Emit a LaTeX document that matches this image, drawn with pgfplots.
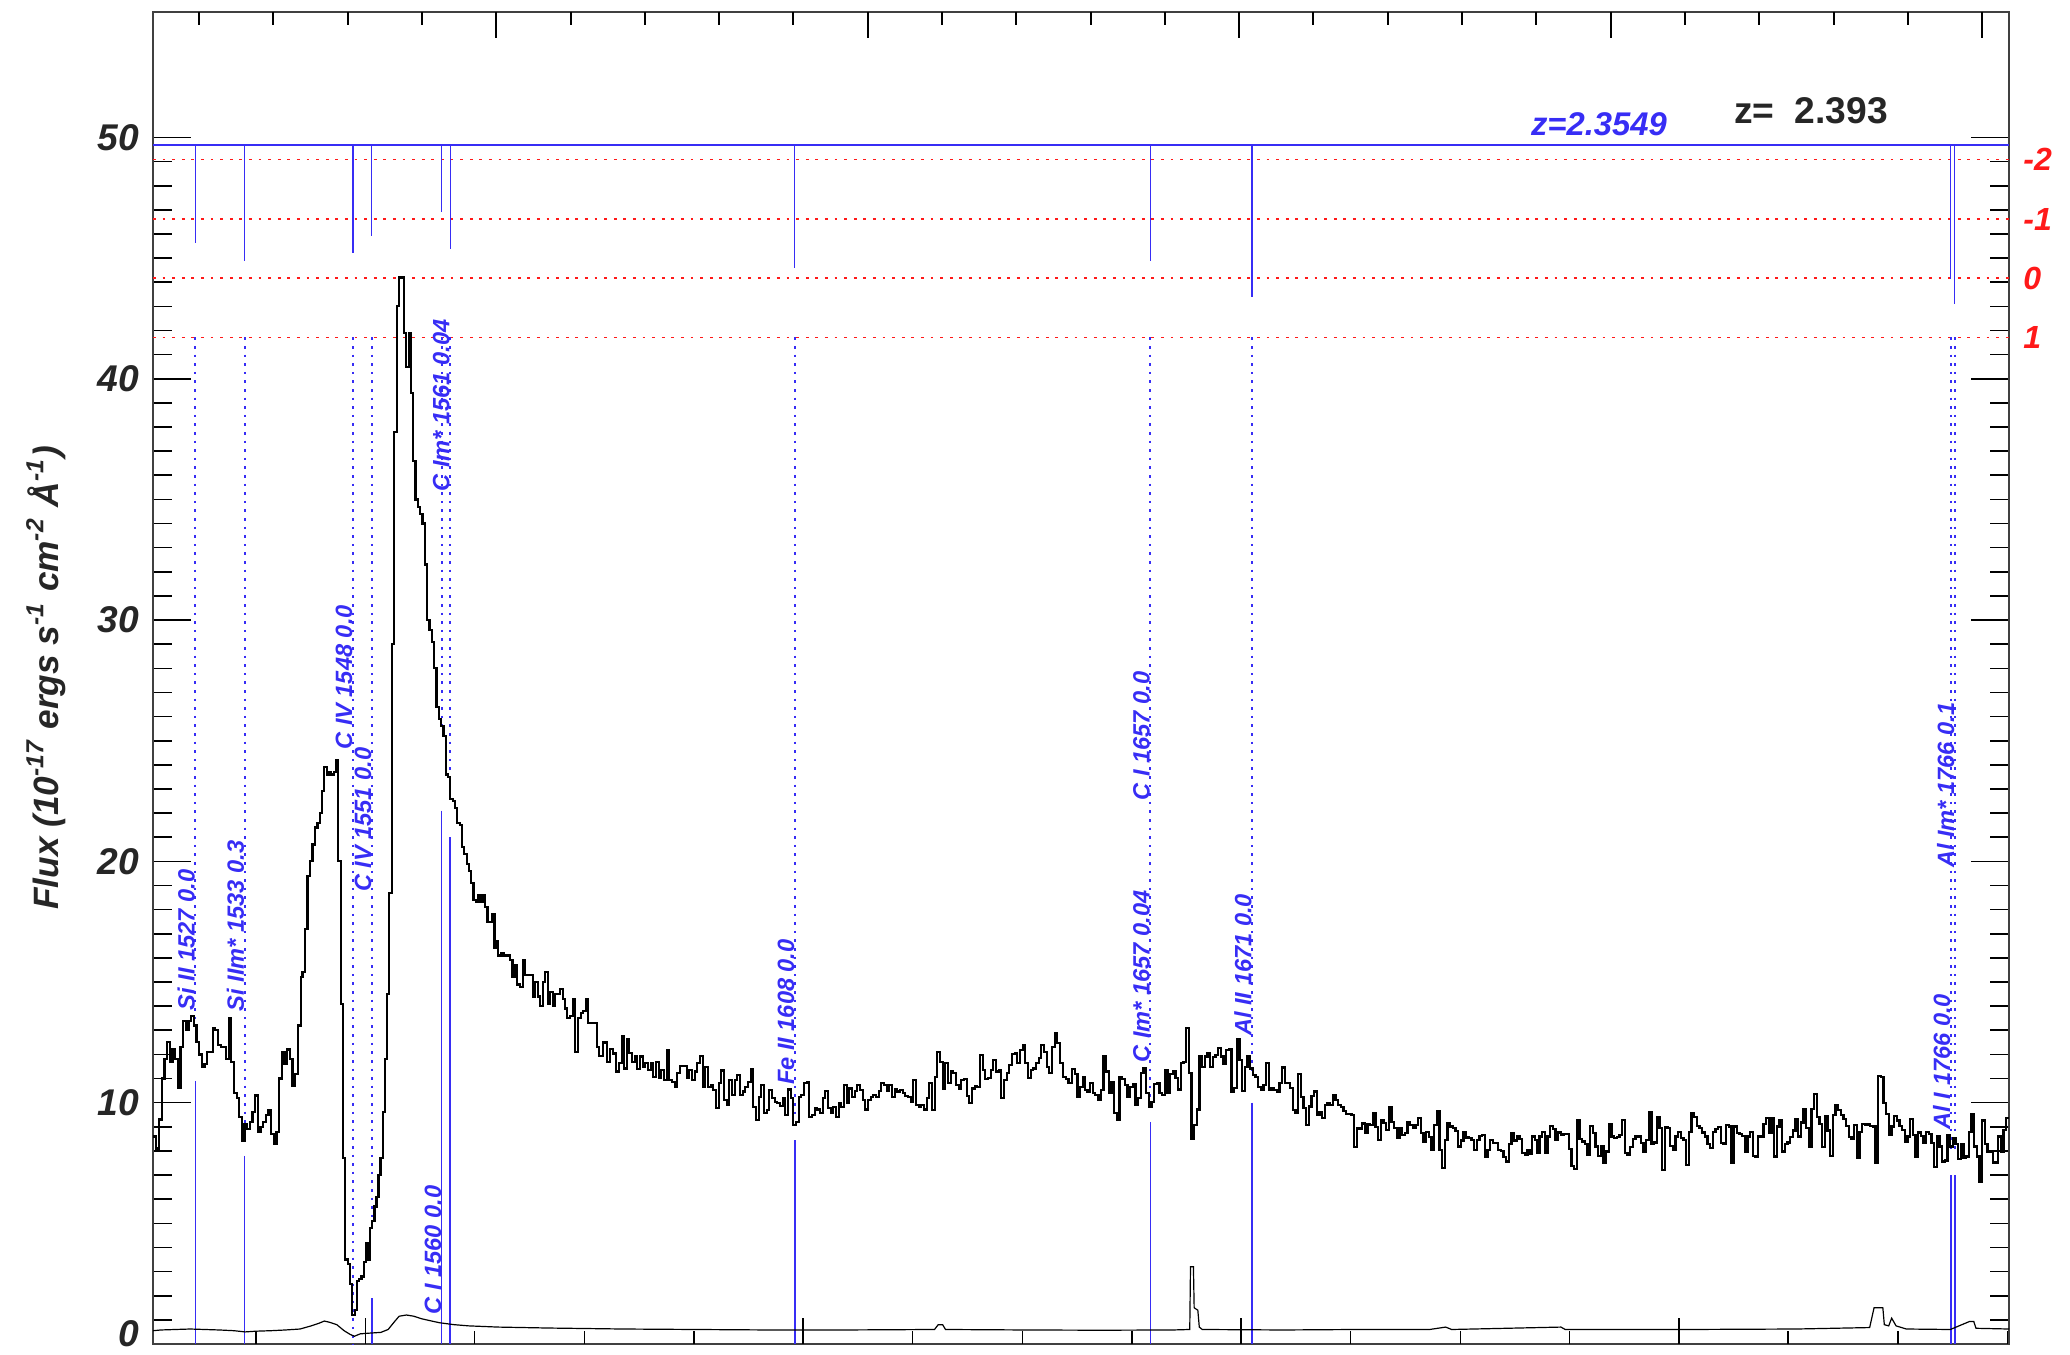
\documentclass[border=0pt]{standalone}
\usepackage{pgfplots}
\pgfplotsset{compat=1.18}
\usepackage{fontspec}
\setmainfont{Liberation Sans}
\definecolor{mblue}{RGB}{55,45,245}
\definecolor{mred}{RGB}{255,25,25}
\newcommand{\lbl}{\fontsize{5.9}{6}\selectfont\bfseries\itshape}
\newcommand{\tkf}{\fontsize{9.3}{10}\selectfont\bfseries\itshape}
\begin{document}
\begin{tikzpicture}
\useasboundingbox (-38.25pt,-2.75pt) rectangle (479.25pt,336pt);
\begin{axis}[
  at={(0,0)}, anchor=south west, scale only axis,
  width=464pt, height=333pt,
  xmin=1520.94, xmax=1774.0, ymin=0, ymax=55.2,
  clip=false,
  xtick=\empty,
  ytick={0,10,20,30,40,50},
  yticklabels={\raisebox{5.4pt}{0},10,20,30,40,50},
  minor y tick num=9,
  ytick pos=both, yticklabel pos=left,
  major tick length=9.4pt, minor tick length=4.7pt,
  tick style={black, line width=0.4pt},
  axis line style={black!75, line width=0.45pt},
  /pgf/number format/assume math mode=true,
  yticklabel style={font=\tkf, text=black!85},
  unbounded coords=jump,
]
% red dotted reference lines
\addplot[mred, line width=0.4pt, dash pattern=on 0.7pt off 1.7pt] coordinates {(1520.94,49.08)(1774.0,49.08)};
\addplot[mred, line width=0.4pt, dash pattern=on 0.7pt off 1.7pt] coordinates {(1520.94,46.62)(1774.0,46.62)};
\addplot[mred, line width=0.4pt, dash pattern=on 0.7pt off 1.7pt] coordinates {(1520.94,44.17)(1774.0,44.17)};
\addplot[mred, line width=0.4pt, dash pattern=on 0.7pt off 1.7pt] coordinates {(1520.94,41.71)(1774.0,41.71)};
% blue system line (z=2.3549)
\addplot[mblue, line width=0.35pt] coordinates {(1520.94,49.68)(1774.0,49.68)};
\addplot[mblue, line width=0.3pt] coordinates {
(1526.71,49.68)(1526.71,45.61)(1526.71,nan)
(1533.43,49.68)(1533.43,44.87)(1533.43,nan)
(1548.20,49.68)(1548.20,45.2)(1548.20,nan)
(1550.78,49.68)(1550.78,45.9)(1550.78,nan)
(1560.31,49.68)(1560.31,46.9)(1560.31,nan)
(1561.45,49.68)(1561.45,45.36)(1561.45,nan)
(1608.45,49.68)(1608.45,44.6)(1608.45,nan)
(1656.93,49.68)(1656.93,44.9)(1656.93,nan)
(1670.79,49.68)(1670.79,43.4)(1670.79,nan)
(1766.07,49.68)(1766.07,44.15)(1766.07,nan)
(1766.62,49.68)(1766.62,43.08)};
% dotted blue line markers
\addplot[mblue, line width=0.5pt, dash pattern=on 0.65pt off 1.5pt] coordinates {
(1526.71,41.71)(1526.71,13.3)(1526.71,nan)
(1533.43,41.71)(1533.43,9.1)(1533.43,nan)
(1548.20,41.71)(1548.20,0)(1548.20,nan)
(1550.78,41.71)(1550.78,5.1)(1550.78,nan)
(1560.31,41.71)(1560.31,25.6)(1560.31,nan)
(1561.45,41.71)(1561.45,23.5)(1561.45,nan)
(1608.45,41.71)(1608.45,9.5)(1608.45,nan)
(1656.93,41.71)(1656.93,10.2)(1656.93,nan)
(1670.79,41.71)(1670.79,11.2)(1670.79,nan)
(1766.07,41.71)(1766.07,8.0)(1766.07,nan)
(1766.62,41.71)(1766.62,8.0)};
% solid blue markers at the bottom
\addplot[mblue, line width=0.35pt] coordinates {
(1526.71,10.9)(1526.71,0)(1526.71,nan)
(1533.43,7.8)(1533.43,0)(1533.43,nan)
(1550.78,1.9)(1550.78,0)(1550.78,nan)
(1560.31,22.1)(1560.31,0)(1560.31,nan)
(1561.45,21.0)(1561.45,0)(1561.45,nan)
(1608.45,8.45)(1608.45,0)(1608.45,nan)
(1656.93,9.2)(1656.93,0)(1656.93,nan)
(1670.79,10.0)(1670.79,0)(1670.79,nan)
(1766.07,7.0)(1766.07,0)(1766.07,nan)
(1766.62,7.0)(1766.62,0)};
% error spectrum
\addplot[black, line width=0.3pt] coordinates {
(1520.97,0.55)(1522,0.58)(1524,0.6)(1526,0.62)(1528,0.6)(1530,0.58)(1532,0.55)(1533.5,0.5)(1535,0.53)(1537,0.55)(1539,0.58)(1541,0.62)(1542.5,0.75)(1543.5,0.85)(1544.3,0.95)(1545,0.9)(1546,0.8)(1547,0.55)(1547.8,0.4)(1548.4,0.32)(1549.2,0.42)(1550.5,0.45)(1552,0.48)(1553,0.6)(1553.8,0.9)(1554.5,1.15)(1555.5,1.2)(1556.5,1.15)(1557.5,1.05)(1558.5,0.98)(1560,0.88)(1562,0.8)(1564,0.75)(1568,0.7)(1575,0.66)(1585,0.62)(1595,0.6)(1605,0.58)(1615,0.58)(1627.5,0.6)(1628.0,0.8)(1628.6,0.8)(1629,0.6)(1640,0.58)(1650,0.57)(1660,0.58)(1662.3,0.6)(1662.4,3.2)(1662.8,3.2)(1662.9,1.5)(1663.4,1.4)(1663.6,0.7)(1664,0.6)(1675,0.58)(1685,0.6)(1695,0.6)(1697.2,0.7)(1698,0.6)(1712.9,0.7)(1713.5,0.6)(1730,0.6)(1745,0.62)(1750,0.65)(1755,0.68)(1755.6,1.5)(1756.8,1.5)(1757.0,0.8)(1757.6,0.75)(1758.0,1.07)(1758.6,0.75)(1760,0.62)(1766,0.6)(1768.6,0.93)(1769.2,0.93)(1769.5,0.65)(1774,0.62)};
% flux spectrum
\addplot[const plot, black, line width=0.55pt] coordinates {
(1520.97,8.6)(1521.34,8.1)(1521.79,9.3)(1522.16,11.0)(1522.52,11.8)(1522.88,12.5)(1523.25,11.7)(1523.61,12.2)(1523.97,11.8)(1524.34,10.6)(1524.70,12.3)(1525.07,13.4)(1525.43,13.0)(1525.79,13.4)(1526.16,13.6)(1526.52,13.2)(1526.88,12.5)(1527.25,12.0)(1527.61,11.5)(1527.97,11.6)(1528.34,12.1)(1528.70,12.1)(1529.07,13.1)(1529.43,13.0)(1529.79,12.4)(1530.16,12.3)(1530.52,12.3)(1530.88,11.8)(1531.25,13.5)(1531.61,11.7)(1531.97,10.4)(1532.34,10.2)(1532.70,9.4)(1533.07,8.4)(1533.43,9.1)(1533.79,8.9)(1534.16,9.2)(1534.52,9.6)(1534.88,10.3)(1535.25,8.8)(1535.61,9.0)(1535.97,9.2)(1536.34,9.5)(1536.70,9.7)(1537.07,8.7)(1537.43,8.3)(1537.79,8.8)(1538.16,11.0)(1538.52,12.1)(1538.88,11.6)(1539.25,12.2)(1539.61,11.8)(1539.97,10.7)(1540.34,11.2)(1540.70,13.2)(1541.07,15.2)
(1541.33,15.4)(1541.65,17.2)(1542.01,19.4)(1542.33,20.0)(1542.69,20.7)(1543.05,21.4)(1543.36,21.6)(1543.68,22.0)(1544.00,22.9)(1544.27,23.9)(1544.63,23.6)(1544.99,23.7)(1545.26,23.6)(1545.62,23.7)(1545.94,24.2)(1546.21,20.0)(1546.53,14.1)(1546.84,7.7)(1547.16,3.5)(1547.48,3.3)(1547.79,2.5)(1548.11,1.2)(1548.43,1.4)(1548.74,2.6)(1549.06,2.7)(1549.38,2.8)(1549.69,3.4)(1550.01,4.2)(1550.28,3.5)(1550.55,4.8)(1550.82,5.1)(1551.14,5.7)(1551.41,6.1)(1551.68,7.0)(1551.95,7.7)(1552.27,9.6)(1552.58,11.8)(1552.85,14.5)(1553.17,18.7)(1553.53,29.0)(1553.85,37.8)(1554.17,43.0)(1554.53,44.2)(1555.16,41.9)(1555.48,40.5)(1555.80,41.9)(1556.11,39.4)(1556.43,36.6)(1556.74,35.0)(1557.06,34.7)(1557.37,34.4)(1557.69,34.0)(1558.01,32.3)(1558.32,30.0)(1558.64,29.6)(1558.96,29.1)(1559.27,28.0)(1559.59,26.4)(1559.90,25.9)(1560.22,25.6)(1560.54,25.2)(1560.85,23.6)(1561.17,23.5)(1561.49,22.6)(1561.80,22.5)(1562.12,22.2)(1562.44,21.6)(1562.75,21.5)(1563.07,20.6)(1563.38,20.3)(1563.70,19.9)(1564.02,19.6)(1564.33,19.1)(1564.65,18.4)(1564.97,18.3)(1565.28,18.6)(1565.60,18.3)(1565.91,18.6)(1566.23,18.1)(1566.55,17.5)(1566.86,17.5)(1567.18,17.8)(1567.50,16.4)(1567.81,16.7)
(1568.02,16.1)(1568.47,16.2)(1568.79,16.1)(1569.25,16.1)(1569.61,15.9)(1569.97,15.2)(1570.29,15.7)(1570.61,14.9)(1570.97,14.8)(1571.34,15.9)(1571.66,15.3)(1572.02,15.3)(1572.70,14.4)(1573.02,15.0)(1573.38,14.4)(1573.70,14.0)(1574.07,15.0)(1574.39,15.4)(1574.75,14.1)(1575.07,14.6)(1575.43,14.0)(1575.75,14.5)(1576.07,14.5)(1576.43,14.7)(1576.79,14.3)(1577.11,13.9)(1577.43,13.5)(1577.79,13.6)(1578.16,14.3)(1578.52,12.1)(1578.88,13.5)(1579.25,13.7)(1579.61,13.8)(1579.97,14.3)(1580.29,13.3)(1580.66,13.3)(1581.43,12.3)
(1581.79,11.93)(1582.25,12.53)(1582.57,12.49)(1582.88,11.70)(1583.25,12.21)(1583.61,12.04)(1584.07,11.29)(1584.52,11.63)(1584.84,12.76)(1585.20,11.42)(1585.52,12.62)(1585.88,12.07)(1586.25,11.70)(1586.61,11.91)(1586.97,11.38)(1587.34,11.91)(1587.70,11.49)(1588.07,11.63)(1588.43,11.35)(1588.79,11.66)(1589.16,11.08)(1589.52,11.70)(1589.88,11.01)(1590.25,11.35)(1590.61,10.94)(1590.97,12.18)(1591.34,10.94)(1591.70,10.87)(1592.07,10.66)(1592.43,11.22)(1592.79,11.52)(1593.70,11.01)(1594.07,11.35)(1594.43,10.94)(1594.79,11.29)(1595.16,11.63)(1595.52,11.93)(1595.88,10.66)(1596.25,11.49)(1596.61,10.64)(1596.97,10.73)(1597.34,10.53)(1597.70,9.77)(1598.07,10.80)(1598.43,11.33)(1598.79,10.11)(1599.16,9.90)(1599.52,10.94)(1599.88,10.32)(1600.25,10.94)(1600.61,11.15)(1600.97,10.32)(1601.34,10.46)(1601.70,10.66)(1602.07,10.87)(1602.43,11.38)(1602.79,9.83)(1603.16,9.28)(1603.52,10.25)(1603.88,10.73)(1604.25,9.56)(1604.61,9.70)(1604.97,10.53)(1605.34,10.18)(1605.70,10.04)(1606.07,9.97)(1606.43,9.86)(1606.79,10.18)(1607.16,9.49)(1607.52,10.55)(1607.88,10.18)(1608.25,9.07)(1608.61,9.21)(1608.97,10.25)(1609.34,10.32)(1609.70,10.80)(1610.07,10.87)(1610.43,9.42)(1610.79,9.49)(1611.16,9.77)(1611.52,9.72)(1611.88,9.56)(1612.25,10.18)(1612.61,10.50)(1612.97,9.77)(1613.34,9.56)(1613.70,9.83)(1614.07,9.42)(1614.43,9.97)(1614.79,9.83)(1615.16,10.73)(1615.52,9.97)(1615.88,10.59)(1616.25,10.25)(1616.61,10.50)(1616.97,10.73)(1617.34,10.53)(1617.70,10.11)(1618.07,9.72)(1618.43,10.11)(1618.79,10.25)(1619.16,10.32)(1619.52,10.25)(1619.88,10.50)(1620.25,10.80)(1620.61,10.73)(1620.97,10.50)(1621.34,10.73)(1621.70,10.22)(1622.07,10.55)(1622.43,10.46)(1622.79,10.53)(1623.16,10.39)(1623.52,10.28)(1623.88,10.22)(1624.25,10.04)(1624.61,10.94)(1624.97,9.90)(1625.34,9.81)(1625.70,9.90)(1626.07,9.72)(1626.43,10.18)(1626.79,10.80)(1627.16,9.70)(1627.52,11.08)(1627.88,12.11)(1628.25,11.70)(1628.61,10.59)(1628.97,11.63)(1629.34,10.80)(1629.70,11.29)(1630.07,11.22)(1630.43,10.73)(1630.79,10.59)(1631.16,10.94)(1631.52,10.97)(1631.88,10.28)(1632.25,9.97)(1632.61,10.59)(1632.97,10.69)(1633.34,10.66)(1633.70,11.98)(1634.07,11.35)(1634.43,10.97)(1634.79,11.01)(1635.16,11.35)(1635.52,11.77)(1635.88,11.29)(1636.25,11.35)(1636.61,10.18)(1636.97,10.94)(1637.34,11.24)(1637.70,11.56)(1638.07,12.02)(1638.43,12.04)(1638.79,11.63)(1639.16,12.18)(1639.52,12.39)(1639.88,11.63)(1640.25,11.01)(1640.61,11.35)(1640.97,11.42)(1641.34,11.63)(1641.70,11.84)(1642.07,12.39)(1642.43,12.11)(1642.79,11.49)(1643.16,11.22)(1643.52,12.32)(1643.88,12.87)(1644.25,12.46)
(1644.62,11.63)(1645.07,11.08)(1645.44,10.97)(1645.76,10.80)(1646.21,11.38)(1646.67,11.19)(1646.98,10.25)(1647.35,10.66)(1647.71,11.08)(1648.03,10.53)(1648.35,10.46)(1648.71,10.80)(1649.07,10.39)(1649.39,10.32)(1649.85,10.11)(1650.17,10.53)(1650.53,11.93)(1650.89,11.29)(1651.26,10.42)(1651.62,10.87)(1651.98,9.56)(1652.35,9.28)(1652.71,11.08)(1653.07,10.97)(1653.44,10.73)(1653.80,10.25)(1654.17,10.66)(1654.53,10.77)(1654.89,9.90)(1655.26,10.18)(1655.62,11.22)(1655.98,11.42)(1656.35,10.39)(1656.71,9.84)(1657.07,10.04)(1657.44,10.77)(1657.80,10.80)(1658.17,10.39)(1658.53,10.32)(1658.89,11.35)(1659.26,10.39)(1659.62,11.19)(1659.98,11.29)(1660.35,11.01)(1660.71,10.55)(1661.07,11.66)(1661.44,11.70)(1661.80,13.08)(1662.17,11.22)(1662.53,8.48)(1662.89,9.08)(1663.26,9.72)(1663.62,11.93)(1663.98,11.49)(1664.35,11.91)(1664.71,12.07)(1665.07,11.49)(1665.44,11.88)(1665.80,11.98)(1666.17,12.25)(1666.53,11.91)(1666.89,11.60)(1667.26,12.18)(1667.62,12.21)(1667.98,10.46)(1668.35,10.60)(1668.71,12.62)(1669.07,11.77)(1669.44,10.50)(1669.80,11.49)(1670.17,11.91)(1670.53,11.42)(1670.89,11.15)(1671.26,11.05)(1671.62,10.66)(1671.98,10.55)(1672.35,10.73)(1672.71,11.63)(1673.07,10.55)(1673.44,10.60)(1673.80,10.53)(1674.17,10.46)(1674.53,10.83)(1674.89,11.46)(1675.26,10.80)(1675.62,10.80)(1675.98,10.60)(1676.35,9.70)(1676.71,9.59)(1677.07,11.19)(1677.44,10.25)(1677.80,9.77)(1678.17,9.08)(1678.53,9.84)(1678.89,10.28)(1679.26,10.46)(1679.62,9.49)(1679.98,9.63)(1680.35,9.35)(1680.71,9.90)(1681.07,9.97)(1681.44,9.90)(1681.80,10.32)(1682.17,10.11)(1682.53,9.90)(1682.89,9.81)(1683.26,9.67)(1683.62,9.53)(1683.98,9.53)(1684.35,9.49)(1684.71,8.15)(1685.07,8.94)(1685.44,8.90)(1685.80,9.14)(1686.17,8.73)(1686.53,9.12)(1686.89,9.08)(1687.26,9.56)(1687.62,8.98)(1687.98,8.45)(1688.35,9.28)(1688.71,9.17)(1689.07,8.87)(1689.44,9.81)(1689.80,9.21)(1690.17,8.94)(1690.53,8.52)(1690.89,8.94)(1691.26,8.66)(1691.62,8.73)(1691.98,9.21)(1692.35,9.08)(1692.71,8.94)(1693.07,9.08)(1693.44,9.35)(1693.80,8.73)(1694.17,8.38)(1694.53,8.80)(1694.89,8.59)(1695.26,8.04)(1695.62,9.08)(1695.98,9.67)(1696.35,8.04)(1696.71,7.28)(1697.07,8.45)(1697.44,9.14)(1697.80,9.01)(1698.17,8.94)(1698.53,8.84)(1698.89,8.18)(1699.26,8.43)(1699.62,8.76)(1699.98,8.56)(1700.35,8.52)(1700.71,8.45)(1701.07,8.04)(1701.44,8.45)(1701.80,8.62)(1702.17,8.66)(1702.53,7.74)(1702.89,8.04)(1703.26,8.45)(1703.62,8.34)(1703.98,8.32)(1704.35,8.04)(1704.71,8.01)(1705.07,7.74)(1705.44,7.56)(1705.80,8.29)(1706.17,8.73)(1706.53,8.43)(1706.89,8.62)(1707.26,8.48)(1707.62,7.90)(1707.98,7.82)(1708.35,8.04)
(1708.71,7.88)(1708.94,8.60)(1709.39,8.46)(1709.62,7.91)(1709.98,8.60)(1710.35,8.80)(1710.71,7.91)(1711.07,8.60)(1711.44,9.04)(1711.80,8.90)(1712.16,8.46)(1712.53,8.76)(1712.89,8.67)(1713.26,8.71)(1713.62,8.71)(1713.98,8.07)(1714.35,7.38)(1714.71,7.24)(1715.07,9.26)(1715.44,8.49)(1715.80,8.39)(1716.16,8.29)(1716.53,7.84)(1716.89,9.04)(1717.26,8.74)(1717.62,8.18)(1717.98,7.80)(1718.35,8.18)(1718.71,7.52)(1719.07,7.98)(1719.44,9.12)(1719.80,8.60)(1720.16,8.53)(1720.53,8.57)(1720.89,8.67)(1721.26,9.29)(1721.62,7.93)(1721.98,7.84)(1722.35,8.15)(1722.71,8.49)(1723.07,8.62)(1723.44,8.60)(1723.80,8.32)(1724.16,7.98)(1724.53,8.46)(1724.89,9.59)(1725.26,8.29)(1725.62,8.35)(1725.98,9.40)(1726.35,8.94)(1726.71,7.22)(1727.07,8.98)(1727.44,8.94)(1727.80,8.21)(1728.16,8.04)(1728.53,8.60)(1728.89,8.80)(1729.26,8.53)(1729.62,8.46)(1729.98,7.42)(1730.35,8.80)(1730.71,9.56)(1731.07,9.40)(1731.44,9.04)(1731.80,8.94)(1732.16,8.76)(1732.53,8.60)(1732.89,8.29)(1733.26,8.11)(1733.62,8.80)(1733.98,8.90)(1734.35,8.98)(1734.71,8.32)(1735.07,8.29)(1735.44,9.08)(1735.80,9.01)(1736.16,7.52)(1736.53,9.01)(1736.89,8.74)(1737.26,8.71)(1737.62,8.62)(1737.98,7.98)(1738.35,8.60)(1738.71,8.80)(1739.07,7.80)(1739.44,7.77)(1739.80,8.60)(1740.16,8.57)(1740.53,9.12)(1740.89,9.36)(1741.26,8.74)(1741.62,9.36)(1741.98,7.77)(1742.35,9.01)(1742.71,9.26)(1743.07,7.98)(1743.44,8.29)(1743.80,8.35)(1744.16,8.57)(1744.53,8.85)(1744.89,9.31)(1745.26,8.60)(1745.62,9.18)(1745.98,9.73)(1746.35,8.94)(1746.71,8.18)(1747.07,9.73)(1747.44,10.36)(1747.80,9.40)(1748.16,9.12)(1748.53,8.15)(1748.89,9.43)(1749.26,8.85)(1749.62,7.80)(1749.98,9.49)(1750.35,9.91)(1750.71,9.70)(1751.07,9.49)(1751.44,9.31)(1751.80,9.04)(1752.16,8.57)(1752.53,8.49)(1752.89,9.08)(1753.26,7.70)(1753.62,8.80)(1753.98,9.12)(1754.35,9.08)(1754.71,9.12)(1755.07,9.04)(1755.44,9.01)(1755.80,7.49)(1756.16,11.11)(1756.53,11.08)(1756.89,9.98)(1757.26,9.54)(1757.62,8.67)(1757.98,9.01)(1758.35,9.45)(1758.71,9.26)(1759.07,9.04)(1759.44,8.87)(1759.80,8.39)(1760.16,8.60)(1760.53,9.31)(1760.89,8.67)(1761.26,7.74)(1761.62,8.76)(1761.98,8.62)(1762.35,8.32)(1762.71,8.80)(1763.07,8.71)(1763.44,8.32)(1763.80,7.35)(1764.16,8.60)(1764.53,8.18)(1764.89,7.56)(1765.26,7.60)(1765.62,8.67)(1765.98,8.18)(1766.35,8.53)(1766.71,8.29)(1767.07,7.66)(1767.44,8.29)(1767.80,7.70)(1768.16,7.77)(1768.53,8.80)(1768.89,9.54)(1769.26,8.18)(1769.62,7.77)(1769.98,6.73)(1770.35,9.26)(1770.71,8.29)(1771.07,7.98)(1771.44,7.98)(1771.80,7.52)(1772.16,7.52)(1772.53,8.60)(1772.89,7.98)(1773.26,8.87)(1773.62,9.36)(1774.0,9.36)};
% line labels
\begin{scope}[every node/.style={rotate=90, anchor=base west, inner sep=0pt, text=mblue, font=\lbl}]
\node at (axis cs:1526.61,13.8) {Si II 1527 0.0};
\node at (axis cs:1533.33,13.75) {Si IIm* 1533 0.3};
\node at (axis cs:1548.10,24.6) {C IV 1548 0.0};
\node at (axis cs:1550.68,18.7) {C IV 1551 0.0};
\node at (axis cs:1560.21,1.2) {C I 1560 0.0};
\node at (axis cs:1561.35,35.3) {C Im* 1561 0.04};
\node at (axis cs:1608.35,10.7) {Fe II 1608 0.0};
\node at (axis cs:1656.83,22.5) {C I 1657 0.0};
\node at (axis cs:1656.83,11.63) {C Im* 1657 0.04};
\node at (axis cs:1670.69,12.74) {Al II 1671 0.0};
\node at (axis cs:1765.97,8.87) {Al I 1766 0.0};
\node at (axis cs:1766.52,19.7) {Al Im* 1766 0.1};
\end{scope}
% redshift labels
\node[font=\fontsize{8.2}{9}\selectfont\bfseries\itshape, text=mblue] at (axis cs:1718.1,50.55) {z=2.3549};
\node[font=\fontsize{9.3}{10}\selectfont\bfseries, text=black!85] at (axis cs:1747.0,51.1) {z=\hspace{0.55em}2.393};
% right red labels
\begin{scope}[every node/.style={anchor=west, inner sep=0pt, xshift=3.4pt, text=mred, font=\fontsize{8.0}{9}\selectfont\bfseries\itshape}]
\node at (axis cs:1774.0,49.08) {-2};
\node at (axis cs:1774.0,46.62) {-1};
\node at (axis cs:1774.0,44.17) {0};
\node at (axis cs:1774.0,41.71) {1};
\end{scope}
% y label
\node[rotate=90, anchor=center, font=\fontsize{8.8}{10}\selectfont\bfseries\itshape, text=black!85] at ([xshift=-26.75pt]rel axis cs:0,0.5)
 {Flux (10\textsuperscript{-17} ergs s\textsuperscript{-1} cm\textsuperscript{-2} Å\textsuperscript{-1})};
\end{axis}
% bottom x ticks
\begin{axis}[
  at={(0,0)}, anchor=south west, scale only axis,
  width=464pt, height=333pt,
  xmin=1520.94, xmax=1774.0, ymin=0, ymax=55.2,
  axis line style={draw=none},
  ytick=\empty,
  xtick={1549.9,1609.6,1669.3,1729.0},
  minor xtick={1535.0,1564.8,1579.8,1594.7,1624.5,1639.5,1654.4,1684.2,1699.2,1714.1,1743.9,1758.9,1773.8},
  xticklabels={}, xtick pos=left,
  major tick length=6.5pt, minor tick length=3.25pt,
  tick style={black, line width=0.4pt},
]
\end{axis}
% top x ticks
\begin{axis}[
  at={(0,0)}, anchor=south west, scale only axis,
  width=464pt, height=333pt,
  xmin=1520.94, xmax=1774.0, ymin=0, ymax=55.2,
  axis line style={draw=none},
  ytick=\empty,
  xtick={1567.7,1618.4,1669.0,1719.7,1770.3},
  minor xtick={1527.2,1537.3,1547.5,1557.6,1577.9,1588.0,1598.1,1608.2,1628.5,1638.6,1648.8,1658.9,1679.1,1689.3,1699.4,1709.5,1729.8,1739.9,1750.1,1760.2},
  xticklabels={}, xtick pos=right,
  major tick length=6.5pt, minor tick length=3.25pt,
  tick style={black, line width=0.4pt},
]
\end{axis}
\end{tikzpicture}
\end{document}
